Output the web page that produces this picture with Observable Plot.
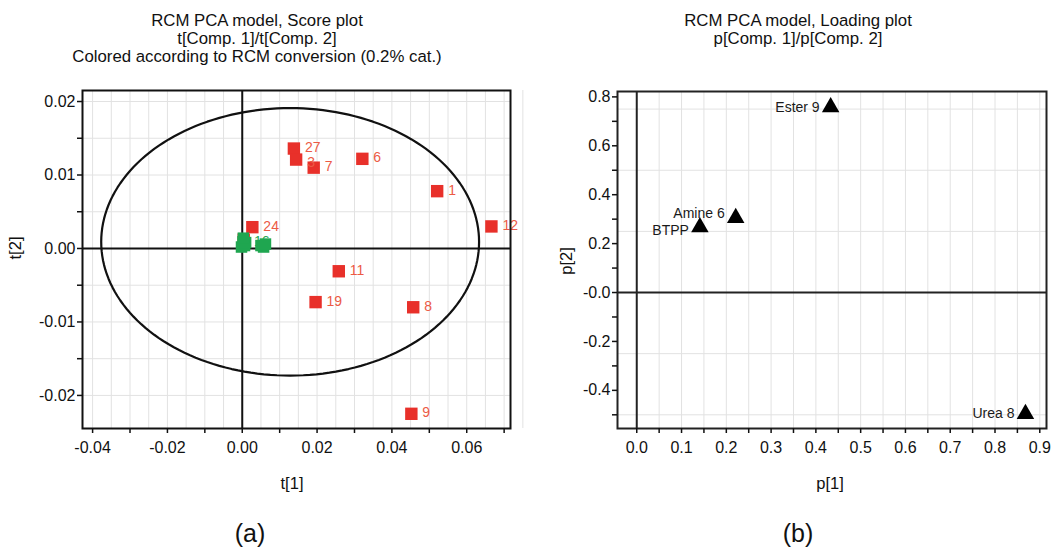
<!DOCTYPE html>
<html>
<head>
<meta charset="utf-8">
<script src="https://cdn.jsdelivr.net/npm/d3@7"></script>
<script src="https://cdn.jsdelivr.net/npm/@observablehq/plot@0.6"></script>
<style>
  html, body { margin: 0; padding: 0; background: #fff; }
  #root { position: relative; width: 1055px; height: 549px; overflow: hidden; font-family: "Liberation Sans", Arial, sans-serif; color: #111; }
  .abs { position: absolute; }
  .title { position: absolute; text-align: center; font-size: 16.8px; line-height: 18px; white-space: nowrap; transform: translateX(-50%); }
  .axlabel { position: absolute; font-size: 16.5px; white-space: nowrap; transform: translate(-50%, -50%); }
  .panel { position: absolute; font-size: 25px; white-space: nowrap; transform: translate(-50%, -50%); }
  .rot { transform: translate(-50%, -50%) rotate(-90deg); }
</style>
</head>
<body>
<div id="root">
  <div class="title" style="left:257px; top:12px;">RCM PCA model, Score plot<br>t[Comp. 1]/t[Comp. 2]<br>Colored according to RCM conversion (0.2% cat.)</div>
  <div class="title" style="left:798px; top:12px;">RCM PCA model, Loading plot<br>p[Comp. 1]/p[Comp. 2]</div>
  <div id="pa" class="abs" style="left:0; top:0;"></div>
  <div id="pb" class="abs" style="left:530px; top:0;"></div>
  <div class="axlabel" style="left:292px; top:483px;">t[1]</div>
  <div class="axlabel rot" style="left:15px; top:248px;">t[2]</div>
  <div class="panel" style="left:250px; top:533px;">(a)</div>
  <div class="axlabel" style="left:830px; top:483px;">p[1]</div>
  <div class="axlabel rot" style="left:566px; top:261px;">p[2]</div>
  <div class="panel" style="left:798px; top:533px;">(b)</div>
</div>
<script>
// ---------- Score plot data (a) ----------
const scoreLabels = ["27", "3", "7", "6", "1", "12", "24", "11", "19", "8", "9"];
const scoreT1 = [0.0138, 0.0144, 0.0191, 0.0321, 0.0521, 0.0666, 0.0027, 0.0258, 0.0196, 0.0457, 0.0452];
const scoreT2 = [0.0136, 0.0121, 0.0110, 0.0122, 0.0078, 0.0030, 0.0029, -0.0031, -0.0073, -0.0080, -0.0225];

const hiddenRedT1 = [0.0004];
const hiddenRedT2 = [0.0012];

const greenLabels = ["16", "", "", "", "", "", "", ""];
const greenT1 = [0.0002, 0.0006, -0.0002, 0.0009, 0.0003, 0.0050, 0.0057, 0.0062];
const greenT2 = [0.0009, 0.0004, 0.0002, 0.0008, 0.0014, 0.0004, 0.0002, 0.0006];

const ellipseCenter = [0.0128, 0.0009];
const ellipseRadii = [0.0505, 0.0182];

const scoreXMajor = [-0.04, -0.02, 0.00, 0.02, 0.04, 0.06];
const scoreXMinor = [-0.03, -0.01, 0.01, 0.03, 0.05, 0.07];
const scoreYMajor = [-0.02, -0.01, 0.00, 0.01, 0.02];
const scoreYMinor = [-0.015, -0.005, 0.005, 0.015];

// ---------- Loading plot data (b) ----------
const loadLabels = ["Ester 9", "Amine 6", "BTPP", "Urea 8"];
const loadP1 = [0.433, 0.221, 0.141, 0.868];
const loadP2 = [0.758, 0.305, 0.267, -0.496];

const loadXMajor = [0.0, 0.1, 0.2, 0.3, 0.4, 0.5, 0.6, 0.7, 0.8, 0.9];
const loadXMinor = [0.05, 0.15, 0.25, 0.35, 0.45, 0.55, 0.65, 0.75, 0.85];
const loadYMajor = [-0.4, -0.2, 0.0, 0.2, 0.4, 0.6, 0.8];
const loadYMinor = [-0.5, -0.3, -0.1, 0.1, 0.3, 0.5, 0.7];
const loadYGrid = [-0.5, -0.25, 0.25, 0.5, 0.75];

// ---------- build tables ----------
const scores = scoreLabels.map((l, i) => ({label: l, t1: scoreT1[i], t2: scoreT2[i]}));
const hiddenRed = hiddenRedT1.map((v, i) => ({t1: v, t2: hiddenRedT2[i]}));
const greens = greenLabels.map((l, i) => ({label: l, t1: greenT1[i], t2: greenT2[i]}));
const ellipse = d3.range(0, 361, 2).map(a => {
  const r = a * Math.PI / 180;
  return {t1: ellipseCenter[0] + ellipseRadii[0] * Math.cos(r), t2: ellipseCenter[1] + ellipseRadii[1] * Math.sin(r)};
});
const loads = loadLabels.map((l, i) => ({label: l, p1: loadP1[i], p2: loadP2[i]}));

const RED = "#e8302a";
const RED_TXT = "#ec5a45";
const GREEN = "#1fa650";
const GRID = "#e2e2e2";
const font = '"Liberation Sans", Arial, sans-serif';

const scoreGridX = d3.range(-0.04, 0.0751, 0.005).map(v => +v.toFixed(3));
const scoreGridY = d3.range(-0.02, 0.0201, 0.005).map(v => +v.toFixed(3));
const loadGridX = d3.range(0.05, 0.901, 0.05).map(v => +v.toFixed(2));

const plotA = Plot.plot({
  width: 530, height: 549,
  marginLeft: 82, marginRight: 20, marginTop: 90, marginBottom: 121,
  style: {fontSize: "16px", fontFamily: font, color: "#111", background: "transparent"},
  x: {domain: [-0.0427, 0.0717]},
  y: {domain: [-0.0245, 0.0215]},
  marks: [
    Plot.gridX(scoreGridX, {stroke: GRID, strokeOpacity: 1}),
    Plot.gridY(scoreGridY, {stroke: GRID, strokeOpacity: 1}),
    Plot.ruleX([0], {stroke: "#111", strokeWidth: 2}),
    Plot.ruleY([0], {stroke: "#111", strokeWidth: 2}),
    Plot.line(ellipse, {x: "t1", y: "t2", stroke: "#111", strokeWidth: 2.2, curve: "linear-closed"}),
    Plot.dot(scores, {x: "t1", y: "t2", symbol: "square", r: 7, fill: RED}),
    Plot.text(scores, {filter: d => d.label !== "3", x: "t1", y: "t2", text: "label", dx: 11, dy: -1, textAnchor: "start", fill: RED_TXT, fontSize: 14}),
    Plot.text(scores, {filter: d => d.label === "3", x: "t1", y: "t2", text: "label", dx: 11, dy: 3, textAnchor: "start", fill: RED_TXT, fontSize: 14}),
    Plot.dot(hiddenRed, {x: "t1", y: "t2", symbol: "square", r: 7, fill: RED}),
    Plot.dot(greens, {x: "t1", y: "t2", symbol: "square", r: 6.5, fill: GREEN}),
    Plot.text(greens, {x: "t1", y: "t2", text: "label", dx: 11, dy: 0, textAnchor: "start", fill: GREEN, fontSize: 14}),
    Plot.frame({stroke: "#111", strokeWidth: 2}),
    Plot.axisX(scoreXMinor, {tickSize: 5, strokeWidth: 1.5, tickFormat: () => "", label: null}),
    Plot.axisX(scoreXMajor, {tickSize: 5, strokeWidth: 1.5, tickPadding: 8, tickFormat: d => d.toFixed(2), label: null}),
    Plot.axisY(scoreYMinor, {tickSize: 5, strokeWidth: 1.5, tickFormat: () => "", label: null}),
    Plot.axisY(scoreYMajor, {tickSize: 5, strokeWidth: 1.5, tickPadding: 2, tickFormat: d => d.toFixed(2), label: null})
  ]
});
document.getElementById("pa").appendChild(plotA);

const plotB = Plot.plot({
  width: 525, height: 549,
  marginLeft: 87, marginRight: 9, marginTop: 91, marginBottom: 121,
  style: {fontSize: "16px", fontFamily: font, color: "#111", background: "transparent"},
  x: {domain: [-0.043, 0.915]},
  y: {domain: [-0.556, 0.822]},
  marks: [
    Plot.gridX(loadGridX, {stroke: GRID, strokeOpacity: 1}),
    Plot.gridY(loadYGrid, {stroke: GRID, strokeOpacity: 1}),
    Plot.ruleX([0], {stroke: "#222", strokeWidth: 2}),
    Plot.ruleY([0], {stroke: "#222", strokeWidth: 2}),
    Plot.dot(loads, {x: "p1", y: "p2", symbol: "triangle", r: 6.5, fill: "#000"}),
    Plot.text(loads, {filter: d => d.label !== "Amine 6" && d.label !== "BTPP", x: "p1", y: "p2", text: "label", dx: -11, textAnchor: "end", fill: "#1a1a1a", fontSize: 14}),
    Plot.text(loads, {filter: d => d.label === "Amine 6", x: "p1", y: "p2", text: "label", dx: -11, dy: -4, textAnchor: "end", fill: "#1a1a1a", fontSize: 14}),
    Plot.text(loads, {filter: d => d.label === "BTPP", x: "p1", y: "p2", text: "label", dx: -11, dy: 3, textAnchor: "end", fill: "#1a1a1a", fontSize: 14}),
    Plot.frame({stroke: "#222", strokeWidth: 2}),
    Plot.axisX(loadXMinor, {tickSize: 5, strokeWidth: 1.5, tickFormat: () => "", label: null}),
    Plot.axisX(loadXMajor, {tickSize: 5, strokeWidth: 1.5, tickPadding: 8, tickFormat: d => d.toFixed(1), label: null}),
    Plot.axisY(loadYMinor, {tickSize: 5, strokeWidth: 1.5, tickFormat: () => "", label: null}),
    Plot.axisY(loadYMajor, {tickSize: 5, strokeWidth: 1.5, tickPadding: 2, tickFormat: d => d === 0 ? "-0.0" : d.toFixed(1), label: null})
  ]
});
document.getElementById("pb").appendChild(plotB);
</script>
</body>
</html>
